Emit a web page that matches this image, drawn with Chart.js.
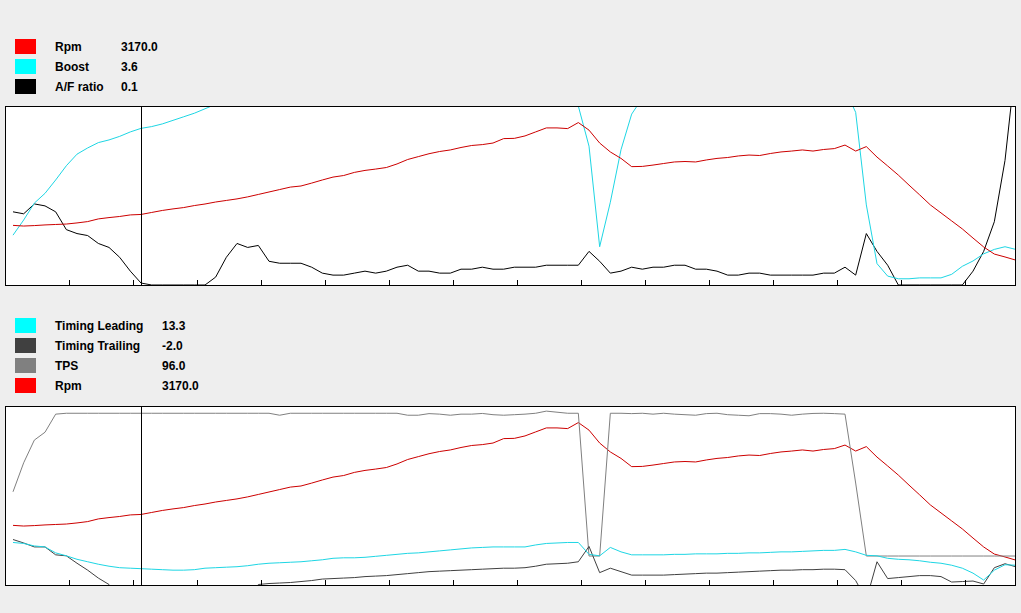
<!DOCTYPE html>
<html>
<head>
<meta charset="utf-8">
<script src="https://cdn.jsdelivr.net/npm/chart.js@4.4.0/dist/chart.umd.min.js"></script>
<style>
  body { margin: 0; background: #eeeeee; width: 1021px; height: 613px; overflow: hidden; position: relative;
         font-family: "Liberation Sans", Arial, sans-serif; font-weight: bold; font-size: 12px; color: #000; }
  canvas { position: absolute; left: 0; }
  .row { position: absolute; left: 0; height: 15px; line-height: 15px; width: 300px; }
  .sw { position: absolute; left: 15px; top: 0; width: 21px; height: 15px; }
  .lb { position: absolute; left: 55px; top: 1px; }
  .val { position: absolute; top: 1px; }
</style>
</head>
<body>
<div id="legendTop"></div>
<div id="legendBottom"></div>
<canvas id="topPanel" width="1021" height="190" style="top:100px"></canvas>
<canvas id="bottomPanel" width="1021" height="190" style="top:400px"></canvas>
<script>
// logged channels, one sample every 1/6 s
const rpm = [
  2680, 2650, 2670, 2700, 2720, 2740, 2790, 2850, 2970, 3030,
  3080, 3150, 3170, 3260, 3350, 3420, 3480, 3570, 3640, 3730,
  3800, 3870, 3960, 4070, 4180, 4290, 4400, 4450, 4580, 4720,
  4850, 4920, 5060, 5150, 5210, 5280, 5440, 5640, 5770, 5900,
  6000, 6070, 6180, 6270, 6310, 6380, 6580, 6590, 6700, 6880,
  7060, 7060, 7030, 7300, 6960, 6380, 5980, 5690, 5320, 5330,
  5390, 5460, 5530, 5550, 5530, 5620, 5690, 5730, 5800, 5840,
  5820, 5910, 5980, 6020, 6070, 6020, 6090, 6130, 6290, 6020,
  6220, 5750, 5350, 4940, 4490, 4050, 3600, 3240, 2880, 2520,
  2110, 1710, 1390, 1260, 1120
];
const boost = [
  -8.4, -6.7, -4.8, -3.7, -2.2, -0.6, 0.7, 1.4, 2.0, 2.3,
  2.7, 3.2, 3.6, 3.8, 4.1, 4.5, 4.9, 5.3, 5.8, 6.3,
  6.7, 7.0, 7.3, 7.6, 7.8, 8.0, 8.2, 8.4, 8.6, 8.7,
  8.8, 8.9, 9.0, 9.1, 9.2, 9.3, 9.4, 9.5, 9.6, 9.7,
  9.8, 9.9, 10.0, 10.1, 10.2, 10.3, 10.4, 10.5, 10.6, 10.6,
  10.7, 10.7, 10.8, 6.1, 1.6, -9.7, -4.7, 1.2, 5.2, 7.0,
  7.8, 8.3, 8.6, 8.8, 9.0, 9.1, 9.2, 9.3, 9.4, 9.5,
  9.5, 9.6, 9.6, 9.7, 9.7, 9.8, 9.8, 9.6, 8.0, 5.4,
  -5.0, -11.6, -13.0, -13.3, -13.3, -13.2, -13.2, -13.2, -12.8, -11.9,
  -11.3, -10.5, -10.0, -9.7, -10.0
];
const afRatio = [
  0.47, 0.46, 0.51, 0.50, 0.47, 0.38, 0.36, 0.35, 0.31, 0.29,
  0.24, 0.17, 0.11, 0.10, 0.10, 0.10, 0.10, 0.10, 0.10, 0.14,
  0.24, 0.31, 0.29, 0.30, 0.22, 0.21, 0.21, 0.21, 0.19, 0.16,
  0.15, 0.15, 0.16, 0.17, 0.16, 0.17, 0.19, 0.20, 0.17, 0.17,
  0.16, 0.16, 0.18, 0.18, 0.19, 0.18, 0.18, 0.19, 0.19, 0.19,
  0.20, 0.20, 0.20, 0.20, 0.27, 0.22, 0.16, 0.17, 0.19, 0.18,
  0.19, 0.19, 0.20, 0.20, 0.18, 0.18, 0.17, 0.15, 0.15, 0.16,
  0.16, 0.15, 0.15, 0.15, 0.15, 0.15, 0.16, 0.16, 0.19, 0.15,
  0.36, 0.27, 0.20, 0.10, 0.10, 0.10, 0.10, 0.10, 0.10, 0.10,
  0.17, 0.27, 0.42, 0.73, 1.22
];
const timingLeading = [
  18.6, 18.4, 17.9, 17.7, 16.5, 15.9, 15.2, 14.7, 14.2, 13.8,
  13.5, 13.4, 13.3, 13.2, 13.1, 13.0, 13.0, 13.1, 13.4, 13.5,
  13.6, 13.7, 13.9, 14.2, 14.4, 14.5, 14.6, 14.7, 14.9, 15.1,
  15.4, 15.5, 15.5, 15.6, 15.8, 16.0, 16.2, 16.4, 16.5, 16.7,
  16.9, 17.1, 17.3, 17.5, 17.6, 17.7, 17.7, 17.7, 17.7, 18.1,
  18.4, 18.5, 18.6, 18.6, 16.2, 15.9, 17.6, 16.7, 16.1, 16.1,
  16.1, 16.1, 16.2, 16.2, 16.3, 16.3, 16.3, 16.4, 16.4, 16.5,
  16.5, 16.6, 16.7, 16.7, 16.8, 16.9, 17.0, 17.0, 17.2, 16.7,
  16.0, 15.9, 15.4, 15.2, 15.1, 14.9, 14.6, 14.4, 14.0, 13.4,
  12.4, 11.0, 13.0, 14.1, 14.0
];
const timingTrailing = [
  19.2, 18.5, 17.7, 17.7, 16.1, 15.9, 14.4, 13.0, 11.4, 10.1,
  4.0, 0.5, -2.0, -2.5, -2.8, -3.0, -2.8, -2.5, -2.0, -1.0,
  0.5, 2.0, 4.0, 10.1, 10.3, 10.4, 10.5, 10.7, 10.9, 11.2,
  11.3, 11.4, 11.5, 11.7, 11.8, 11.9, 12.1, 12.3, 12.5, 12.7,
  12.8, 12.9, 13.0, 13.1, 13.2, 13.3, 13.4, 13.4, 13.5, 13.8,
  14.2, 14.3, 14.4, 14.7, 17.8, 12.5, 13.4, 12.7, 12.0, 12.0,
  12.0, 12.0, 12.1, 12.2, 12.3, 12.4, 12.4, 12.5, 12.6, 12.7,
  12.8, 12.9, 13.0, 13.0, 13.1, 13.1, 13.2, 13.2, 13.1, 10.9,
  7.0, 14.7, 11.3, 11.5, 11.7, 11.9, 11.9, 11.7, 10.6, 10.7,
  10.8, 10.2, 13.5, 14.3, 13.7
];
const tps = [
  52.1, 68.3, 81.0, 85.4, 95.5, 96.0, 96.0, 96.0, 96.0, 96.0,
  96.0, 96.0, 96.0, 96.0, 96.0, 96.0, 96.0, 96.0, 96.0, 96.0,
  96.0, 96.0, 96.0, 96.0, 96.0, 94.9, 96.0, 96.0, 96.0, 96.0,
  96.0, 96.0, 96.0, 96.0, 96.0, 96.0, 96.0, 94.9, 94.9, 95.8,
  95.5, 94.9, 95.5, 95.5, 95.9, 95.2, 94.9, 95.2, 95.5, 96.0,
  97.2, 96.6, 96.0, 96.0, 16.2, 16.2, 96.0, 96.0, 95.8, 96.0,
  95.5, 96.0, 95.5, 95.2, 94.9, 95.8, 96.0, 95.2, 94.9, 94.6,
  95.8, 95.8, 95.5, 94.9, 95.5, 95.9, 96.0, 95.8, 95.5, 57.0,
  16.2, 16.2, 16.2, 16.2, 16.2, 16.2, 16.2, 16.2, 16.2, 16.2,
  16.2, 16.2, 16.2, 16.2, 16.2
];

// time axis (seconds); tick marks every second
const times = Array.from({ length: rpm.length }, (_, i) => 0.125 + i / 6);
const xTicks = [1, 2, 3, 4, 5, 6, 7, 8, 9, 10, 11, 12, 13, 14, 15];
const cursorIndex = 12;

const topNames = ['Rpm', 'Boost', 'A/F ratio'];
const topColors = ['#ff0000', '#00ffff', '#000000'];
const bottomNames = ['Timing Leading', 'Timing Trailing', 'TPS', 'Rpm'];
const bottomColors = ['#00ffff', '#404040', '#808080', '#ff0000'];

function buildLegend(id, names, colors, series, top, valueLeft) {
    const box = document.getElementById(id);
    names.forEach((name, k) => {
        const row = document.createElement('div');
        row.className = 'row';
        row.style.top = (top + k * 20) + 'px';
        row.innerHTML = '<span class="sw" style="background:' + colors[k] + '"></span>' +
            '<span class="lb">' + name + '</span>' +
            '<span class="val" style="left:' + valueLeft + 'px">' + series[k][cursorIndex].toFixed(1) + '</span>';
        box.appendChild(row);
    });
}
buildLegend('legendTop', topNames, topColors, [rpm, boost, afRatio], 39, 121);
buildLegend('legendBottom', bottomNames, bottomColors, [timingLeading, timingTrailing, tps, rpm], 318, 162);

// white plot area, border, tick marks and cursor line
const panelFrame = {
    id: 'panelFrame',
    beforeDatasetsDraw(chart) {
        const a = chart.chartArea;
        const ctx = chart.ctx;
        ctx.save();
        ctx.fillStyle = '#ffffff';
        ctx.fillRect(a.left, a.top, a.right - a.left, a.bottom - a.top);
        ctx.restore();
    },
    afterDatasetsDraw(chart) {
        const a = chart.chartArea;
        const ctx = chart.ctx;
        const x = chart.scales.x;
        ctx.save();
        ctx.strokeStyle = '#000000';
        ctx.lineWidth = 1;
        ctx.beginPath();
        xTicks.forEach(t => {
            const px = Math.round(x.getPixelForValue(t)) + 0.5;
            ctx.moveTo(px, a.bottom);
            ctx.lineTo(px, a.bottom - 5);
        });
        const cx = Math.round(x.getPixelForValue(times[cursorIndex])) + 0.5;
        ctx.moveTo(cx, a.top);
        ctx.lineTo(cx, a.bottom);
        ctx.stroke();
        ctx.strokeRect(a.left - 0.5, a.top - 0.5, a.right - a.left + 1, a.bottom - a.top + 1);
        ctx.restore();
    }
};

function points(values) {
    return values.map((v, i) => ({ x: times[i], y: v }));
}

function makePanel(canvasId, datasets, yScales) {
    const scales = {
        x: { type: 'linear', display: false, min: 1 / 64, max: 1010 / 64 }
    };
    Object.keys(yScales).forEach(k => {
        scales[k] = { type: 'linear', display: false, min: yScales[k][0], max: yScales[k][1] };
    });
    return new Chart(document.getElementById(canvasId), {
        type: 'line',
        data: { datasets: datasets },
        options: {
            responsive: false,
            animation: false,
            devicePixelRatio: 1,
            events: [],
            layout: { padding: { left: 6, right: 6, top: 7, bottom: 5 } },
            elements: { point: { radius: 0 }, line: { borderWidth: 1, tension: 0 } },
            plugins: { legend: { display: false }, tooltip: { enabled: false } },
            scales: scales
        },
        plugins: [panelFrame]
    });
}

makePanel('topPanel', [
    { label: 'Rpm', data: points(rpm), borderColor: '#cc0000', yAxisID: 'yRpm', clip: 0 },
    { label: 'Boost', data: points(boost), borderColor: '#1ed6e4', yAxisID: 'yBoost', clip: 0 },
    { label: 'A/F ratio', data: points(afRatio), borderColor: '#000000', yAxisID: 'yAf', clip: 0 }
], { yRpm: [0, 8000], yBoost: [-14, 6], yAf: [0.1, 1.0] });

makePanel('bottomPanel', [
    { label: 'Timing Leading', data: points(timingLeading), borderColor: '#1ed6e4', yAxisID: 'yTiming', clip: 0 },
    { label: 'Timing Trailing', data: points(timingTrailing), borderColor: '#404040', yAxisID: 'yTiming', clip: 0 },
    { label: 'TPS', data: points(tps), borderColor: '#808080', yAxisID: 'yTps', clip: 0 },
    { label: 'Rpm', data: points(rpm), borderColor: '#cc0000', yAxisID: 'yRpm', clip: 0 }
], { yTiming: [10, 46], yTps: [0, 99.5], yRpm: [0, 8000] });
</script>
</body>
</html>
